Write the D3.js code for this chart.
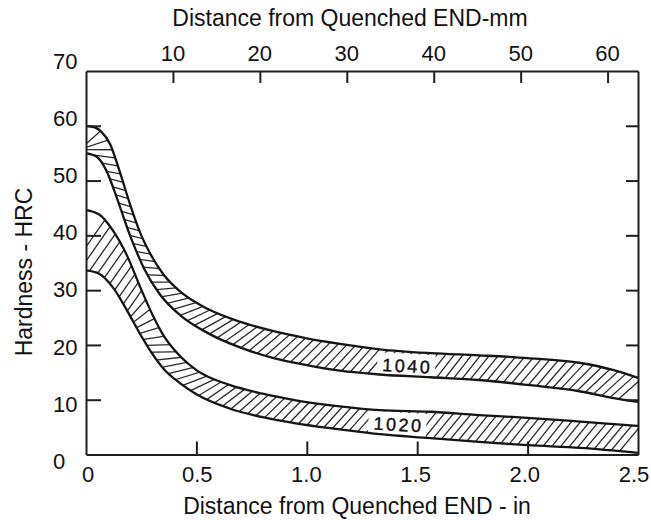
<!DOCTYPE html>
<html>
<head>
<meta charset="utf-8">
<script src="https://cdn.jsdelivr.net/npm/d3@7"></script>
<style>
body { margin: 0; background: #fff; }
svg { display: block; font-family: "Liberation Sans", Arial, sans-serif; }
</style>
</head>
<body>
<div id="chart"></div>
<script>
// hardness bands: distance (in) vs HRC
const upper1040X = [0, 0.04, 0.07, 0.11, 0.15, 0.2, 0.245, 0.3, 0.35, 0.44, 0.55, 0.7, 0.85, 1.0, 1.15, 1.33, 1.56, 1.78, 2.0, 2.24, 2.39, 2.5];
const upper1040 = [60, 59.7, 58.9, 56.6, 52.0, 45.6, 40.5, 36.0, 32.9, 29.3, 26.6, 24.2, 22.5, 21.2, 20.2, 19.2, 18.5, 18.1, 17.6, 16.7, 15.4, 14.0];
const lower1040X = [0, 0.05, 0.09, 0.14, 0.19, 0.23, 0.26, 0.335, 0.43, 0.55, 0.7, 0.85, 1.0, 1.15, 1.33, 1.56, 1.78, 2.0, 2.24, 2.39, 2.5];
const lower1040 = [55, 54.3, 52.0, 46.8, 41.0, 36.9, 34.2, 29.2, 25.3, 22.2, 19.5, 17.6, 16.3, 15.3, 14.6, 14.1, 13.6, 12.7, 11.5, 10.3, 9.6];
const upper1020X = [0, 0.06, 0.12, 0.186, 0.245, 0.3, 0.35, 0.43, 0.5, 0.65, 0.8, 0.95, 1.15, 1.33, 1.56, 1.78, 2.0, 2.24, 2.5];
const upper1020 = [44.6, 43.8, 41.0, 36.3, 30.6, 25.6, 21.8, 17.8, 15.4, 12.7, 11.1, 9.9, 8.8, 8.1, 7.8, 7.2, 6.7, 6.0, 5.2];
const lower1020X = [0, 0.06, 0.12, 0.19, 0.245, 0.3, 0.35, 0.43, 0.5, 0.65, 0.8, 0.95, 1.15, 1.33, 1.56, 1.78, 2.0, 2.24, 2.5];
const lower1020 = [33.6, 33.0, 30.6, 26.0, 22.0, 18.4, 15.7, 12.9, 11.0, 8.4, 6.8, 5.7, 4.6, 3.7, 3.0, 2.3, 1.7, 1.2, 0.3];

const steels = ["1040", "1020"];
const steelLabelIn = [1.45, 1.41];
const steelLabelHRC = [16.2, 5.5];

const inTicks = [0.5, 1.0, 1.5, 2.0];
const inLabels = ["0", "0.5", "1.0", "1.5", "2.0", "2.5"];
const mmTicks = [10, 20, 30, 40, 50, 60];
const hrcTicks = [10, 20, 30, 40, 50, 60];
const hrcLabels = [0, 10, 20, 30, 40, 50, 60, 70];

function buildChart() {

let boxWidth = 651;
let boxHeight = 520;
let margin = {top: 71, right: 13, bottom: 65.5, left: 86};
let width = boxWidth - margin.left - margin.right;
let height = boxHeight - margin.top - margin.bottom;

let svg = d3.select("#chart")
    .append("svg")
    .attr("width", boxWidth)
    .attr("height", boxHeight);

let plot = svg.append("g")
    .attr("transform", `translate(${margin.left}, ${margin.top})`);

// scales
let x = d3.scaleLinear().domain([0, 2.5]).range([0, width]);
let y = d3.scaleLinear().domain([0, 70]).range([height, 0]);
let mm = d3.scaleLinear().domain([0, 63.5]).range([0, width]);
// the printed labels sit a bit off the tick marks
let xLab = d3.scaleLinear().domain([0, 2.5]).range([2, width - 4]);
let yLab = d3.scaleLinear().domain([0, 70]).range([height + 6.5, -10]);

// layers
let hatchLayer = plot.append("g");
let labelLayer = plot.append("g");
let curveLayer = plot.append("g");
let axisLayer = plot.append("g");

let lineGen = d3.line()
    .x(d => x(d[0]))
    .y(d => y(d[1]))
    .curve(d3.curveMonotoneX);

let bands = [
  {up: d3.zip(upper1040X, upper1040), lo: d3.zip(lower1040X, lower1040)},
  {up: d3.zip(upper1020X, upper1020), lo: d3.zip(lower1020X, lower1020)}
];

let bis = d3.bisector(p => p.x).left;
function yAt(pts, sx) {
  let i = bis(pts, sx);
  if (i <= 0) return pts[0].y;
  if (i >= pts.length) return pts[pts.length - 1].y;
  let a = pts[i - 1], b = pts[i];
  let t = (b.x - a.x) ? (sx - a.x) / (b.x - a.x) : 0;
  return a.y + t * (b.y - a.y);
}
function sample(node) {
  let L = node.getTotalLength();
  let pts = [];
  for (let s = 0; s < L; s += 1) {
    let p = node.getPointAtLength(s);
    pts.push({x: p.x, y: p.y});
  }
  let e = node.getPointAtLength(L);
  pts.push({x: e.x, y: e.y});
  return pts;
}

let spacing = 8.5;
let skew = 55 * Math.PI / 180;

bands.forEach(function(band, bi) {
  let upPath = curveLayer.append("path")
      .attr("d", lineGen(band.up))
      .attr("fill", "none")
      .attr("stroke", "#141414")
      .attr("stroke-width", 2.3);
  let loPath = curveLayer.append("path")
      .attr("d", lineGen(band.lo))
      .attr("fill", "none")
      .attr("stroke", "#141414")
      .attr("stroke-width", 2.3);

  let upPts = sample(upPath.node());
  let loPts = sample(loPath.node());

  // clip = area between the two curves
  let poly = upPts.concat(loPts.slice().reverse());
  svg.append("clipPath")
      .attr("id", "band" + bi)
    .append("path")
      .attr("d", "M" + poly.map(p => p.x + "," + p.y).join("L") + "Z");

  // midline of the band, for hatch placement
  let mid = [];
  let cum = 0;
  for (let sx = 0; sx <= width; sx += 1) {
    let yu = yAt(upPts, sx), yl = yAt(loPts, sx);
    let p = {x: sx, y: (yu + yl) / 2, t: yl - yu};
    if (mid.length) {
      let q = mid[mid.length - 1];
      cum += Math.hypot(p.x - q.x, p.y - q.y);
    }
    p.s = cum;
    mid.push(p);
  }

  let rungs = [];
  let j = 0;
  for (let s = spacing / 2; s < cum; s += spacing) {
    while (j < mid.length - 2 && mid[j + 1].s < s) j++;
    let a = mid[j], b = mid[j + 1];
    let f = (b.s - a.s) ? (s - a.s) / (b.s - a.s) : 0;
    let px = a.x + f * (b.x - a.x);
    let py = a.y + f * (b.y - a.y);
    let a2 = mid[Math.max(0, j - 4)], b2 = mid[Math.min(mid.length - 1, j + 5)];
    let th = Math.atan2(b2.y - a2.y, b2.x - a2.x);
    // narrow band: rungs follow the band; wide band: plain 55 deg hatch
    let k = Math.max(0, Math.min(1, (50 - a.t) / 15));
    let phi = th * k - skew;
    let rel = Math.abs(Math.sin(phi - th));
    let half = (a.t * Math.cos(th) / 2) / Math.max(rel, 0.3) + 10;
    rungs.push([px - half * Math.cos(phi), py - half * Math.sin(phi),
                px + half * Math.cos(phi), py + half * Math.sin(phi)]);
  }

  hatchLayer.append("g")
      .attr("clip-path", `url(#band${bi})`)
    .selectAll("line")
    .data(rungs)
    .enter()
    .append("line")
      .attr("x1", d => d[0])
      .attr("y1", d => d[1])
      .attr("x2", d => d[2])
      .attr("y2", d => d[3])
      .attr("stroke", "#2a2a2a")
      .attr("stroke-width", 1.3);
});

// steel grade labels with a blank patch in the hatching
let tags = labelLayer.selectAll("g")
    .data(steels)
    .enter()
    .append("g")
    .attr("transform", (d, i) => `translate(${x(steelLabelIn[i])}, ${y(steelLabelHRC[i])}) rotate(3)`);
tags.append("rect")
    .attr("x", -29).attr("y", -12)
    .attr("width", 58).attr("height", 24)
    .attr("fill", "#fff");
tags.append("text")
    .text(d => d)
    .attr("text-anchor", "middle")
    .attr("dy", "0.36em")
    .attr("dx", 1.2)
    .attr("font-size", "18px")
    .attr("letter-spacing", "2.5px")
    .attr("stroke", "#111")
    .attr("stroke-width", 0.4)
    .attr("fill", "#111");

// frame + inward ticks
axisLayer.append("g")
    .call(d3.axisLeft(y).tickValues(hrcTicks).tickSizeInner(-15).tickSizeOuter(0).tickFormat(""));
axisLayer.append("g")
    .attr("transform", `translate(${width}, 0)`)
    .call(d3.axisRight(y).tickValues(hrcTicks).tickSizeInner(-12).tickSizeOuter(0).tickFormat(""));
axisLayer.append("g")
    .attr("transform", `translate(0, ${height})`)
    .call(d3.axisBottom(x).tickValues(inTicks).tickSizeInner(-13).tickSizeOuter(0).tickFormat(""));
axisLayer.append("g")
    .call(d3.axisTop(mm).tickValues(mmTicks).tickSizeInner(-12).tickSizeOuter(0).tickFormat(""));
axisLayer.selectAll("path, line")
    .attr("stroke", "#1e1e1e")
    .attr("stroke-width", 2);

// tick labels
plot.append("g").selectAll("text")
    .data(hrcLabels)
    .enter()
    .append("text")
    .text(d => d)
    .attr("x", 53 - margin.left)
    .attr("y", d => yLab(d))
    .attr("dy", "0.36em")
    .attr("font-size", "22px")
    .attr("fill", "#111");

plot.append("g").selectAll("text")
    .data(inLabels)
    .enter()
    .append("text")
    .text(d => d)
    .attr("x", d => xLab(+d))
    .attr("y", height + 27.5)
    .attr("text-anchor", "middle")
    .attr("font-size", "22px")
    .attr("fill", "#111");

plot.append("g").selectAll("text")
    .data(mmTicks)
    .enter()
    .append("text")
    .text(d => d)
    .attr("x", d => mm(d))
    .attr("y", -10)
    .attr("text-anchor", "middle")
    .attr("font-size", "22px")
    .attr("fill", "#111");

// axis titles
svg.append("text")
    .attr("x", 350).attr("y", 26)
    .attr("text-anchor", "middle")
    .attr("font-size", "23px")
    .attr("fill", "#111")
    .text("Distance from Quenched END-mm");

svg.append("text")
    .attr("x", 357).attr("y", 514)
    .attr("text-anchor", "middle")
    .attr("font-size", "23px")
    .attr("fill", "#111")
    .text("Distance from Quenched END - in");

svg.append("text")
    .attr("transform", "translate(31.5, 272) rotate(-90)")
    .attr("text-anchor", "middle")
    .attr("font-size", "23px")
    .attr("fill", "#111")
    .text("Hardness - HRC");
}

buildChart();
</script>
</body>
</html>
